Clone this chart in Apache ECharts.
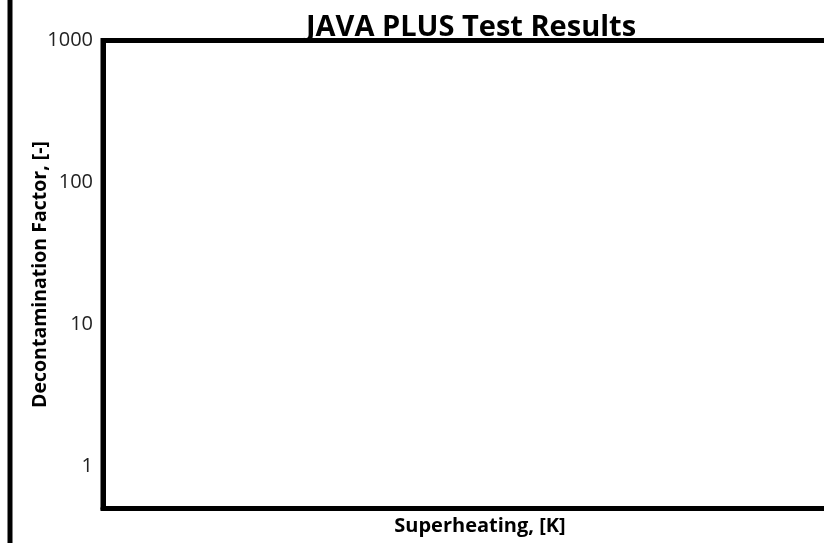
<!DOCTYPE html>
<html>
<head>
<meta charset="utf-8">
<title>JAVA PLUS Test Results</title>
<script src="https://cdn.jsdelivr.net/npm/echarts@6/dist/echarts.min.js"></script>
<style>
  html, body { margin: 0; padding: 0; background: #fff; overflow: hidden; }
  /* the figure is wider than the window; its right part is cut off */
  #chart { width: 870px; height: 543px; }
</style>
</head>
<body>
<div id="chart"></div>
<script>
// Chart texts and axis settings
const chartTitle = 'JAVA PLUS Test Results';
const xAxisName = 'Superheating, [K]';
const yAxisName = 'Decontamination Factor, [-]';
const yTickLabels = [1, 10, 100, 1000];
const yRange = [0.5, 1000];
const xRange = [0, 100];
// No measurements plotted yet
const testResults = [];

const FONT = '"Open Sans", "Noto Sans", sans-serif';

const chart = echarts.init(document.getElementById('chart'), null, { renderer: 'canvas' });

chart.setOption({
  animation: false,
  backgroundColor: '#ffffff',
  title: {
    text: chartTitle,
    left: 471,
    textAlign: 'center',
    top: 13,
    padding: 0,
    textStyle: { fontFamily: FONT, fontWeight: 'bold', fontSize: 29, color: '#000' }
  },
  grid: {
    left: 103,
    right: 13,
    top: 40.5,
    bottom: 34.5,
    show: true,
    borderColor: '#000',
    borderWidth: 5,
    backgroundColor: 'transparent'
  },
  xAxis: {
    type: 'value',
    min: xRange[0],
    max: xRange[1],
    name: xAxisName,
    nameLocation: 'middle',
    nameGap: 8,
    nameMoveOverlap: false,
    nameTextStyle: { fontFamily: FONT, fontWeight: 'bold', fontSize: 20, color: '#000', verticalAlign: 'top' },
    axisLine: { show: true, lineStyle: { color: '#000', width: 5 } },
    axisTick: { show: false },
    axisLabel: { show: false },
    splitLine: { show: false }
  },
  yAxis: {
    type: 'log',
    logBase: 10,
    min: yRange[0],
    max: yRange[1],
    name: yAxisName,
    nameLocation: 'middle',
    nameGap: 53,
    nameMoveOverlap: false,
    nameTextStyle: { fontFamily: FONT, fontWeight: 'bold', fontSize: 19.5, color: '#000' },
    axisLine: { show: true, lineStyle: { color: '#000', width: 5 } },
    axisTick: { show: false },
    splitLine: { show: false },
    axisLabel: {
      margin: 10,
      showMinLabel: false,
      fontFamily: FONT,
      fontSize: 20,
      color: '#222',
      formatter: function (v) {
        const hit = yTickLabels.find(function (t) { return Math.abs(t - v) / t < 1e-6; });
        return hit === undefined ? '' : String(hit);
      }
    }
  },
  graphic: [
    {
      type: 'line',
      shape: { x1: 10, y1: 0, x2: 10, y2: 543 },
      style: { stroke: '#000', lineWidth: 5 }
    }
  ],
  series: [
    {
      type: 'scatter',
      name: 'JAVA PLUS',
      data: testResults
    }
  ]
});
</script>
</body>
</html>
